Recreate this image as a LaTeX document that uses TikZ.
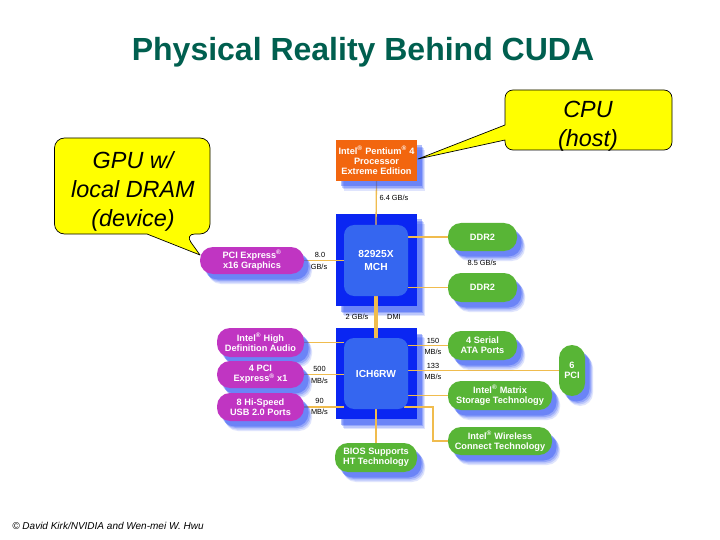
\documentclass[tikz,border=0pt]{standalone}
\usepackage{fontspec}
\setmainfont{Liberation Sans}
\usetikzlibrary{shadows,backgrounds,calc}
\definecolor{titlec}{HTML}{005F4F}
\definecolor{orangec}{HTML}{F2660F}
\definecolor{outerc}{HTML}{0A26F2}
\definecolor{innerc}{HTML}{3566F0}
\definecolor{purplec}{HTML}{C035C2}
\definecolor{greenc}{HTML}{58B536}
\definecolor{wirec}{HTML}{F0BC4E}
\definecolor{shadc}{HTML}{1F46F5}
\definecolor{calloutc}{HTML}{FFFF00}
\newcommand{\regmark}{\textsuperscript{®}}
\tikzset{
  bx/.style n args={4}{at={({(#1+#2)/2},{-(#3+#4)/2})},minimum width={(#2-#1)*1pt},minimum height={(#4-#3)*1pt}},
  softshadow/.style={
    general shadow={fill=shadc,opacity=.14,shadow xshift=8pt,shadow yshift=-10pt},
    general shadow={fill=shadc,opacity=.18,shadow xshift=7pt,shadow yshift=-8.5pt},
    general shadow={fill=shadc,opacity=.25,shadow xshift=6pt,shadow yshift=-7pt},
    general shadow={fill=shadc,opacity=.35,shadow xshift=4.5pt,shadow yshift=-5.5pt}},
  block/.style={softshadow,inner sep=0pt,text=white,align=center,
    font=\bfseries\fontsize{9.2}{10.2}\selectfont},
  pill/.style={block,rounded corners=13pt},
  greenpill/.style={pill,fill=greenc},
  purplepill/.style={pill,fill=purplec},
  chip/.style={softshadow,fill=outerc,inner sep=0pt},
  die/.style={fill=innerc,rounded corners=10pt,inner sep=0pt,text=white,align=center,
    font=\bfseries\fontsize{10.2}{13.5}\selectfont},
  wire/.style={draw=wirec,line width=1.3pt},
  thickwire/.style={draw=wirec,line width=3.2pt},
  rate/.style={inner sep=0pt,text=black,font=\fontsize{7.4}{8}\selectfont},
  balloon/.style={draw=black,fill=calloutc,line width=.7pt,line join=round},
  balloontext/.style={inner sep=0pt,align=center,text=black,
    font=\itshape\fontsize{23.4}{29}\selectfont},
}
\begin{document}
\begin{tikzpicture}[x=1pt,y=1pt]
\useasboundingbox (0,0) rectangle (720,-540);

\node (title) at (363,-52) [inner sep=0pt,text=titlec,font=\bfseries\fontsize{32}{34}\selectfont] {Physical Reality Behind CUDA};
\node (copy) at (108,-525.5) [inner sep=0pt,text=black,font=\itshape\fontsize{10}{11}\selectfont] {© David Kirk/NVIDIA and Wen-mei W. Hwu};

\begin{pgfonlayer}{background}
\fill[white] (0,0) rectangle (720,-540);
\node[chip,bx={336}{417}{214}{306}] (mch) {};
\node[chip,bx={336}{417}{328}{419}] (ich) {};
\end{pgfonlayer}

\node[die,bx={344}{408}{225}{296}] (mchdie) {82925X\\MCH};
\node[die,bx={344}{408}{338}{409}] (ichdie) {ICH6RW};

\node[block,fill=orangec,bx={336}{417}{140}{181}] (cpu) {Intel\regmark{} Pentium\regmark{} 4\\Processor\\Extreme Edition};
\node[purplepill,bx={200}{304}{247}{274}] (pcie) {PCI Express\regmark\\x16 Graphics};
\node[greenpill,bx={448}{517}{223}{251}] (ddra) {DDR2};
\node[greenpill,bx={448}{517}{273}{302}] (ddrb) {DDR2};
\node[purplepill,bx={217}{304}{328}{357}] (audio) {Intel\regmark{} High\\Definition Audio};
\node[purplepill,bx={217}{304}{361}{388}] (pcix) {4 PCI\\Express\regmark{} x1};
\node[purplepill,bx={217}{304}{393}{421}] (usb) {8 Hi-Speed\\USB 2.0 Ports};
\node[greenpill,bx={448}{517}{331}{360}] (sata) {4 Serial\\ATA Ports};
\node[greenpill,bx={559}{585}{345}{396}] (pci) {6\\PCI};
\node[greenpill,bx={448}{552}{381}{410}] (matrix) {Intel\regmark{} Matrix\\Storage Technology};
\node[greenpill,bx={448}{552}{427}{455}] (wireless) {Intel\regmark{} Wireless\\Connect Technology};
\node[greenpill,bx={335}{417}{443}{472}] (bios) {BIOS Supports\\HT Technology};

\begin{pgfonlayer}{background}
\draw[wire] (cpu.south) -- (mchdie.north);
\draw[wire] (pcie.east) -- (mchdie.west);
\draw[wire] (ddra.west) -- (ddra.west -| mchdie.east);
\draw[wire] (ddrb.west) -- (ddrb.west -| mchdie.east);
\draw[thickwire] (mchdie.south) -- (ichdie.north);
\draw[wire] (audio.east) -- (audio.east -| ichdie.west);
\draw[wire] (pcix.east) -- (pcix.east -| ichdie.west);
\draw[wire] (usb.east) -- (usb.east -| ichdie.west);
\draw[wire] (ichdie.south) -- (bios.north);
\draw[wire] (sata.west) -- (sata.west -| ichdie.east);
\draw[wire] (pci.west) -- (pci.west -| ichdie.east);
\draw[wire] (matrix.west) -- (matrix.west -| ichdie.east);
\coordinate (wl) at (404,-407);
\draw[wire] (wireless.west) -| (433,-407) -- (wl);
\end{pgfonlayer}

\node[rate] (r1) at (394,-198) {6.4 GB/s};
\node[rate] (r2) at (320,-255) {8.0};
\node[rate] (r3) at (319,-266.5) {GB/s};
\node[rate] (r4) at (357,-317) {2 GB/s};
\node[rate] (r5) at (394,-317) {DMI};
\node[rate] (r6) at (482,-263) {8.5 GB/s};
\node[rate] (r7) at (433,-341) {150};
\node[rate] (r8) at (433,-352) {MB/s};
\node[rate] (r9) at (433,-365.5) {133};
\node[rate] (r10) at (433,-377) {MB/s};
\node[rate] (r11) at (319.5,-369) {500};
\node[rate] (r12) at (319.5,-381) {MB/s};
\node[rate] (r13) at (319.5,-401) {90};
\node[rate] (r14) at (319.5,-412) {MB/s};

\coordinate (gputip) at (200,-255);
\coordinate (cputip) at (418,-159);
\draw[balloon,rounded corners=10pt] (54.5,-186) -- (54.5,-138) -- (210,-138) -- (210,-234) -- (185,-234) [sharp corners] -- (gputip) -- (147,-234) [rounded corners=10pt] -- (54.5,-234) -- cycle;
\draw[balloon,rounded corners=8pt] (505,-110) -- (505,-90) -- (672,-90) -- (672,-150) -- (505,-150) [sharp corners] -- (505,-140) -- (cputip) -- (505,-125) -- cycle;
\node[balloontext] (gputext) at (133,-191.5) {GPU w/\\local DRAM\\(device)};
\node[balloontext] (cputext) at (588,-126.5) {CPU\\(host)};
\end{tikzpicture}
\end{document}
